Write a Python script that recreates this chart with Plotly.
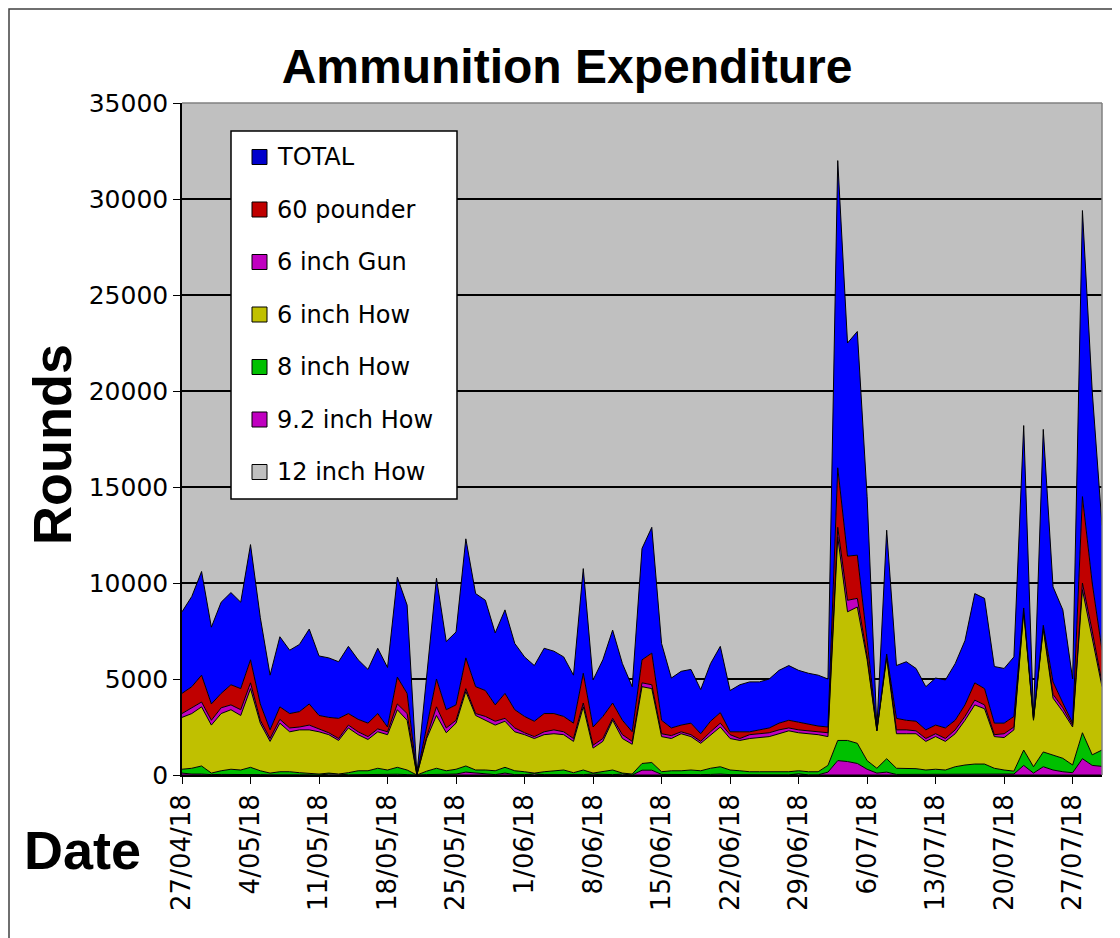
import pandas as pd
import plotly.graph_objects as go

# ---------------- data (rounds per day, 27/04/18 .. 30/07/18) ----------------
dates = pd.date_range("2018-04-27", "2018-07-30", freq="D")

twelve_inch_how = [0]*15 + [50, 50] + [0]*19 + [50] + [0]*5 + [50, 0, 0, 50] + [0]*17 + [50] + [0]*31

nine2_inch_how = [100, 50, 50, 20, 30, 30, 30, 50, 20, 10,
                  20, 20, 10, 10, 0, 0, 0, 10, 20, 20,
                  30, 20, 40, 20, 0, 20, 30, 20, 50, 150,
                  100, 50, 20, 100, 20, 20, 10, 20, 20, 20,
                  10, 20, 0, 20, 20, 0, 0, 250, 250, 30,
                  20, 20, 20, 20, 30, 50, 20, 20, 10, 10,
                  10, 10, 10, 10, 10, 10, 150, 750, 700, 600,
                  300, 100, 150, 30, 30, 30, 20, 20, 30, 30,
                  50, 50, 50, 30, 30, 50, 500, 100, 430, 260,
                  170, 120, 850, 500, 450]

eight_inch_how = [200, 300, 420, 80, 190, 270, 230, 350, 200, 90,
                  150, 150, 110, 90, 50, 50, 0, 110, 200, 200,
                  320, 240, 360, 240, 0, 180, 320, 200, 250, 320,
                  160, 210, 200, 300, 200, 150, 40, 150, 200, 240,
                  110, 240, 50, 150, 240, 50, 50, 350, 400, 140,
                  200, 200, 240, 200, 320, 380, 240, 200, 160, 160,
                  160, 140, 160, 160, 160, 160, 350, 1050, 1100, 1050,
                  450, 250, 700, 320, 300, 300, 240, 280, 230, 400,
                  470, 520, 520, 320, 230, 150, 800, 330, 770, 790,
                  700, 400, 1350, 550, 850]

six_inch_how = [2700, 2850, 3080, 2500, 2980, 3100, 2840, 4100, 2480, 1650,
                2530, 2080, 2230, 2250, 2200, 2000, 1750, 2330, 1880, 1630,
                1900, 1840, 3000, 2590, 0, 1700, 2750, 1980, 2400, 3880,
                2840, 2590, 2380, 2400, 2030, 1930, 1800, 1930, 1930, 1840,
                1630, 3290, 1300, 1580, 2590, 1800, 1550, 4000, 3850, 1830,
                1680, 1930, 1740, 1430, 1750, 2070, 1640, 1580, 1730, 1780,
                1830, 2000, 2130, 1980, 1980, 1930, 1500, 10600, 6700, 7100,
                5250, 1950, 5250, 1800, 1820, 1820, 1490, 1700, 1490, 1720,
                2330, 3080, 2880, 1650, 1690, 2150, 7200, 2420, 6400, 2950,
                2430, 1980, 7450, 6150, 3300]

six_inch_gun = [200, 300, 250, 250, 300, 250, 300, 300, 150, 150,
                200, 200, 150, 250, 150, 100, 100, 150, 150, 150,
                150, 150, 300, 350, 0, 100, 450, 250, 150, 150,
                100, 200, 200, 150, 200, 100, 100, 150, 200, 150,
                150, 200, 150, 150, 100, 200, 150, 200, 200, 150,
                150, 100, 100, 100, 150, 200, 200, 100, 200, 200,
                200, 200, 150, 150, 150, 150, 200, 500, 600, 450,
                200, 0, 100, 200, 200, 150, 150, 150, 150, 200,
                200, 250, 200, 100, 200, 150, 100, 50, 100, 200,
                200, 100, 350, 300, 200]

sixty_pounder = [1050, 1100, 1400, 850, 750, 1050, 1100, 1200, 850, 450,
                 650, 750, 800, 1100, 700, 800, 1050, 600, 650, 700,
                 800, 250, 1400, 1050, 20, 500, 1450, 950, 800, 1600,
                 1400, 1350, 850, 1300, 950, 850, 800, 950, 850, 800,
                 800, 1550, 950, 1150, 800, 750, 500, 1200, 1650, 700,
                 400, 350, 600, 400, 550, 550, 150, 350, 150, 200,
                 250, 350, 400, 400, 350, 300, 300, 3100, 2300, 2250,
                 800, 50, 100, 600, 500, 500, 450, 450, 550, 500,
                 600, 900, 850, 600, 550, 550, 100, 50, 100, 650,
                 250, 100, 4500, 2500, 1700]

total = [4250, 4700, 5400, 4000, 4750, 4800, 4500, 6000, 4500, 2850,
         3650, 3300, 3500, 3900, 3100, 3100, 2950, 3500, 3100, 2800,
         3400, 3100, 5200, 4600, 30, 2500, 5250, 3550, 3800, 6200,
         4850, 4700, 3750, 4350, 3450, 3100, 2900, 3400, 3250, 3100,
         2500, 5450, 2450, 2950, 3800, 2950, 2350, 5800, 6550, 4000,
         2600, 2800, 2800, 2300, 3000, 3450, 2150, 2450, 2600, 2500,
         2550, 2750, 2850, 2700, 2650, 2650, 2500, 16000, 11100, 11650,
         7500, 100, 6450, 2750, 3050, 2750, 2250, 2450, 2500, 2950,
         3350, 4650, 4700, 2950, 2850, 3100, 9500, 100, 10200, 4950,
         4850, 2300, 14900, 10000, 6500]

# stacking order bottom -> top
series_names = ["12 inch How", "9.2 inch How", "8 inch How", "6 inch How",
                "6 inch Gun", "60 pounder", "TOTAL"]
series_values = [twelve_inch_how, nine2_inch_how, eight_inch_how, six_inch_how,
                 six_inch_gun, sixty_pounder, total]
fill_colors = ["#C0C0C0", "#C000C0", "#00C000", "#C0C000",
               "#C000C0", "#C00000", "#0000FF"]
legend_colors = {"TOTAL": "#0000CC", "60 pounder": "#C00000", "6 inch Gun": "#C000C0",
                 "6 inch How": "#C0C000", "8 inch How": "#00C000",
                 "9.2 inch How": "#C000C0", "12 inch How": "#C0C0C0"}
legend_order = ["TOTAL", "60 pounder", "6 inch Gun", "6 inch How",
                "8 inch How", "9.2 inch How", "12 inch How"]

# ---------------- figure ----------------
OFF = 8  # page body margin of the html page
W, H = 1120 - OFF, 938 - OFF
L, R, T, B = 182, 1102, 103, 775  # plot area in page pixels (reference)


def px(x):
    return (x - L) / (R - L)


def py(y):
    return (B - y) / (B - T)


fig = go.Figure()
for name, vals, col in zip(series_names, series_values, fill_colors):
    fig.add_trace(go.Scatter(
        x=dates, y=vals, name=name, mode="lines",
        stackgroup="one", fillcolor=col,
        line=dict(color="#000000", width=1),
        showlegend=False,
    ))

tick_font = dict(family="DejaVu Sans, Arial", size=25, color="#000000")
xtick_font = dict(family="DejaVu Sans, Arial", size=26, color="#000000")
fig.update_layout(
    width=W, height=H,
    margin=dict(l=L - OFF, r=W - (R - OFF), t=T - OFF, b=H - (B - OFF)),
    paper_bgcolor="#FFFFFF", plot_bgcolor="#C0C0C0",
    showlegend=False,
    title=dict(text="<b>Ammunition Expenditure</b>", x=(567 - OFF) / W, xanchor="center",
               y=1 - (66 - OFF) / H, yanchor="middle",
               font=dict(family="Liberation Sans, Arial", size=48, color="#000000")),
    xaxis=dict(
        type="date", range=[dates[0], dates[-1]],
        tick0=dates[0], dtick=7 * 86400000, tickformat="%-d/%m/%y",
        tickangle=-90, ticks="outside", ticklen=7, tickcolor="#000000",
        showgrid=False, showline=True, linecolor="#000000", linewidth=1.5,
        tickfont=xtick_font, zeroline=False,
    ),
    yaxis=dict(
        range=[0, 35000], dtick=5000, tickformat="d",
        ticks="outside", ticklen=7, tickcolor="#000000",
        showgrid=True, gridcolor="#000000", gridwidth=1.5,
        showline=True, linecolor="#000000", linewidth=1.5,
        tickfont=tick_font, zeroline=False,
    ),
)

shapes = []
annotations = []
# plot-area top & right border (grey)
shapes.append(dict(type="line", xref="paper", yref="paper", x0=0, x1=1, y0=1, y1=1,
                   line=dict(color="#808080", width=1.5)))
shapes.append(dict(type="line", xref="paper", yref="paper", x0=1, x1=1, y0=0, y1=1,
                   line=dict(color="#808080", width=1.5)))
# outer chart border (left and top edges visible on the page)
shapes.append(dict(type="rect", xref="paper", yref="paper",
                   x0=px(9), x1=px(1119), y0=py(960), y1=py(9),
                   line=dict(color="#404040", width=1.5), fillcolor="rgba(0,0,0,0)"))
# legend box
shapes.append(dict(type="rect", xref="paper", yref="paper",
                   x0=px(231), x1=px(457), y0=py(499), y1=py(131),
                   line=dict(color="#000000", width=1.5), fillcolor="#FFFFFF"))
for i, name in enumerate(legend_order):
    cy = 157 + 52.5 * i
    shapes.append(dict(type="rect", xref="paper", yref="paper",
                       x0=px(252), x1=px(267), y0=py(cy + 7.5), y1=py(cy - 7.5),
                       line=dict(color="#000000", width=1), fillcolor=legend_colors[name]))
    annotations.append(dict(text=name, xref="paper", yref="paper", x=px(275), y=py(cy),
                            xanchor="left", yanchor="middle", showarrow=False,
                            font=dict(family="DejaVu Sans, Arial", size=24, color="#000000")))
# axis titles
annotations.append(dict(text="<b>Rounds</b>", xref="paper", yref="paper",
                        x=px(52), y=py(445), textangle=-90, showarrow=False,
                        xanchor="center", yanchor="middle",
                        font=dict(family="Liberation Sans, Arial", size=54, color="#000000")))
annotations.append(dict(text="<b>Date</b>", xref="paper", yref="paper",
                        x=px(82), y=py(850), showarrow=False,
                        xanchor="center", yanchor="middle",
                        font=dict(family="Liberation Sans, Arial", size=54, color="#000000")))
fig.update_layout(shapes=shapes, annotations=annotations)

fig.write_html("out.html")
